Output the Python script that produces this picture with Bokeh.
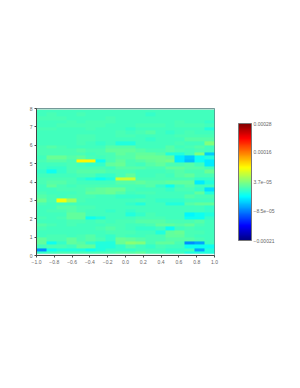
from bokeh.plotting import figure
from bokeh.models import LinearColorMapper, ColorBar, FixedTicker, Range1d
from bokeh.embed import file_html
from bokeh.resources import INLINE
import numpy as np

# cell values in units of 1e-5, from y=8 (top) to y=0 (bottom), x=-1..1
field_rows = [
 [0.5,0.5,0.5,0.5,0.5,0.5,0.5,0.5,0.5,0.5,0.5,0.5,0.5,0.5,0.5,0.5,0.5,0.5],
 [0.5,1,0.5,0.5,1,0.5,0.5,0.5,0.5,0.5,0.5,0,0.5,0.5,0.5,0.5,0.5,0.5],
 [1,1,1,0.5,0.5,0.5,0.5,1,0.5,0.5,0.5,0.5,0.5,0.5,0.5,0.5,0.5,0.5],
 [0.5,0.5,0.5,1,0.5,1,1,1,0.5,0.5,0.5,0.5,0.5,0.5,1,0.5,0.5,0],
 [0.5,0.5,1,1,1,1,1,0.5,0.5,0.5,1,1,1,0.5,1,1,1,0.5],
 [1,1,0.5,0.5,0.5,1,0.5,0.5,0.5,0,0.5,0.5,0.5,0.5,0.5,0.5,0.5,-1],
 [0.5,0.5,0.5,0.5,0.5,0.5,0.5,0.5,1,0.5,1,1.5,0.5,0,0.5,1,0.5,0.5],
 [0.5,0.5,0.5,0.5,1,1,0.5,0.5,1,1,0.5,0.5,0.5,0.5,1,1,1,1],
 [0.5,0.5,0.5,0.5,1,1,0.5,0.5,0.5,0.5,0.5,0,0.5,0.5,0.5,1.5,1.5,1.5],
 [0.5,0.5,0.5,0.5,1,0.5,0,0.5,-1,-1,0.5,0.5,0.5,0.5,1,0.5,0.5,3.5],
 [1,1.5,1,0.5,0.5,0.5,0.5,1.5,1.5,1.5,0.5,0.5,0.5,1.5,0.5,1,1.5,0.5],
 [1,1,1,1,1.5,1,1,2,2,2,1.5,1,1,1.5,1,0.5,1,0.5],
 [1,1,1,1,1,0.5,1,1,2,1.5,2,2,1.5,-1,-1,0.5,3.5,-5],
 [0.5,2.5,2.5,1.5,2,1,0.5,1,1.5,1.5,2.5,2.5,2.5,2,-3.5,-5,-2,-1],
 [1,1.5,1.5,1,10,10,-2,1,2,1,1.5,2,2.5,3,-3.5,-5.5,-2,-3.5],
 [0.5,0.5,0.5,1,0.5,0,0,2,2.5,1,0.5,1.5,2,1,1,1.5,0.5,-3.5],
 [0.5,0,0,1,1,1,1,0.5,1.5,1.5,1.5,1,1,2,2,1.5,1.5,0.5],
 [0,-2,0,1,1.5,1.5,1.5,1,1,1,0.5,0.5,0.5,1,1.5,1,1,2.5],
 [0.5,0.5,0.5,0.5,1,1,0,0,1,2,0.5,0.5,1,0.5,1.5,2,1,1],
 [1,1,1,1,0,-1,-2,-1,7,7,1,1,1,1,1,1,0,0],
 [1,1.5,1.5,1,0.5,0.5,0.5,0.5,1.5,1.5,2,1.5,1.5,2,2,2,-3.5,-1],
 [0.5,2,1,0.5,1,1,1,1,1,1,1,1.5,0,-2,0.5,1.5,0.5,0.5],
 [0.5,0.5,1,1,1,1.5,2,2.5,2.5,1,0.5,0.5,0.5,0,1,1,0,-4],
 [1,0.5,0.5,0.5,1,2,2,2.5,1.5,0.5,1,1,0.5,0.5,0.5,0.5,2,-1],
 [1.5,1,0.5,1,1,1,0.5,0.5,0,0,0,0.5,0.5,0.5,0.5,1.5,1,1],
 [2.5,1,9,5,1,0.5,0.5,0.5,0.5,0.5,1,0.5,0,0,0,0.5,0.5,0.5],
 [1,0.5,0.5,0.5,0.5,0.5,0.5,0.5,0.5,0,-1,0.5,0.5,-1,-1,1.5,2,2],
 [0.5,0.5,1.5,1.5,1,1,0.5,0.5,0.5,0.5,0.5,0.5,0.5,0.5,0.5,0.5,0.5,0],
 [0.5,1,1,1.5,1,0.5,0.5,0,0.5,0,0.5,0.5,0.5,0.5,0.5,0.5,0.5,0],
 [0.5,0.5,0.5,2,2,0.5,0.5,0.5,0.5,-1,0,1,0.5,0.5,0.5,-3,-2,-1],
 [1,0.5,1,2,2,-2,-1,0.5,0.5,0.5,1,1,1,0.5,0.5,-2,-2,0],
 [0.5,0.5,0.5,1,1,0.5,1,0.5,1,1,1.5,1.5,1.5,1,1,1,1.5,0.5],
 [1.5,1,0.5,1,0.5,0.5,0.5,1,1,0.5,0.5,1,2,2,1.5,2,1,0.5],
 [1,0.5,0.5,0.5,0.5,0.5,1,1.5,1,0.5,0,0,0.5,-2,0.5,1,0.5,0.5],
 [0.5,0.5,0.5,0.5,0.5,0.5,0.5,1,1,1,0.5,0.5,-1,2,2.5,1,1,0.5],
 [0.5,1,1,0.5,1,1.5,0.5,0,1,0.5,0.5,1,1,2,2,1,0.5,0.5],
 [2,1,1,2,1,1.5,1,0,2.5,2,1.5,1,1,1.5,1.5,1.5,1,0.5],
 [2,-2,0,2,1.5,0,-1,-1,2.5,4,3.5,1,2,2,1,-8,-7,0.5],
 [0.5,1,1,0.5,2,2,-1,-1,0,1.5,0.5,0,1,0.5,0.5,-2,-2,-2],
 [-8,-2,-1,-1,-1,-2,-1,0,0,0,0.5,0.5,0.5,0,0,0.5,-7,-1],
 [0,0.5,1,1,1,1,1,1,1.5,1.5,2,1,1,0.5,0.5,-1,-1,-1],
]
x_ticks = [-1.0, -0.8, -0.6, -0.4, -0.2, 0.0, 0.2, 0.4, 0.6, 0.8, 1.0]
y_ticks = [0, 1, 2, 3, 4, 5, 6, 7, 8]
color_low, color_high = -0.00021, 0.00028
color_ticks = [-0.00021, -8.5e-05, 3.7e-05, 0.00016, 0.00028]
color_labels = ["−0.00021", "−8.5e−05", "3.7e−05", "0.00016", "0.00028"]


def jet(t):
    r = np.clip(min(4 * t - 1.5, -4 * t + 4.5), 0, 1)
    g = np.clip(min(4 * t - 0.5, -4 * t + 3.5), 0, 1)
    b = np.clip(min(4 * t + 0.5, -4 * t + 2.5), 0, 1)
    return "#%02x%02x%02x" % (int(r * 255), int(g * 255), int(b * 255))


palette = [jet(i / 255) for i in range(256)]
mapper = LinearColorMapper(palette=palette, low=color_low, high=color_high)

grid = np.array(field_rows[::-1], dtype=float) * 1e-5

p = figure(width=284, height=372, output_backend="svg", toolbar_location=None,
           x_range=Range1d(-1, 1), y_range=Range1d(0, 8),
           min_border_left=36, min_border_right=70, min_border_top=108, min_border_bottom=117)
p.frame_width = 178
p.frame_height = 147
p.grid.visible = False
p.outline_line_color = "#5a8a8a"
p.outline_line_width = 1
p.background_fill_color = "#ffffff"

p.image(image=[grid], x=-1, y=0, dw=2, dh=7.95, color_mapper=mapper)
p.quad(left=[-1], right=[1], bottom=[0], top=[0.1], fill_color="#eef4f2", line_color=None)
p.quad(left=[-1], right=[1], bottom=[7.95], top=[8.0], fill_color="#c8c8c8", line_color=None)

for ax, ticks in ((p.xaxis[0], x_ticks), (p.yaxis[0], y_ticks)):
    ax.ticker = FixedTicker(ticks=ticks)
    ax.axis_line_color = "#444444"
    ax.major_tick_line_color = "#444444"
    ax.major_tick_in = 0
    ax.major_tick_out = 2
    ax.minor_tick_line_color = None
    ax.major_label_text_font = "Liberation Sans"
    ax.major_label_text_font_size = "5px"
    ax.major_label_text_color = "#666666"
    ax.major_label_standoff = 2
p.xaxis[0].major_label_overrides = {v: f"{v:.1f}".replace("-", "−") for v in x_ticks}
p.yaxis[0].major_label_orientation = "horizontal"

cb = ColorBar(color_mapper=mapper, ticker=FixedTicker(ticks=color_ticks),
              major_label_overrides=dict(zip(color_ticks, color_labels)),
              width=13, height=117, location=(202, 15),
              major_label_text_font="Liberation Sans", major_label_text_font_size="5px",
              major_label_text_color="#666666", major_tick_line_color=None,
              bar_line_color="#777777", bar_line_width=1,
              background_fill_alpha=0, border_line_color=None,
              padding=0, label_standoff=2)
p.add_layout(cb, "center")

open("out.html", "w").write(file_html(p, INLINE))
